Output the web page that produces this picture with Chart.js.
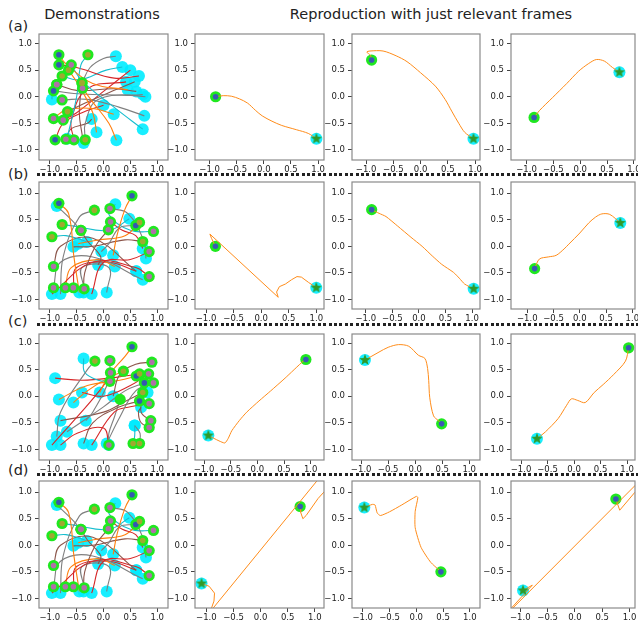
<!DOCTYPE html>
<html>
<head>
<meta charset="utf-8">
<script src="https://cdn.jsdelivr.net/npm/chart.js@4.4.1/dist/chart.umd.min.js"></script>
<style>
  body { margin: 0; background: #fff; width: 638px; height: 623px; overflow: hidden; position: relative;
         font-family: "DejaVu Sans", sans-serif; color: #222; }
  .t { position: absolute; font-size: 14.5px; line-height: 1; white-space: nowrap; }
  .mid { transform: translateX(-50%); }
  .dots { position: absolute; left: 37px; width: 601px; height: 3px;
          background: repeating-linear-gradient(to right, #222 0 3px, transparent 3px 5.4px); }
  canvas { position: absolute; }
</style>
</head>
<body>
<div class="t mid" style="left:102px;top:7px">Demonstrations</div>
<div class="t mid" style="left:431px;top:7px">Reproduction with just relevant frames</div>
<div class="t" style="left:8px;top:19px">(a)</div>
<div class="t" style="left:8px;top:167px">(b)</div>
<div class="t" style="left:8px;top:314px">(c)</div>
<div class="t" style="left:8px;top:463px">(d)</div>
<div class="dots" style="top:173px"></div>
<div class="dots" style="top:323px"></div>
<div class="dots" style="top:473px"></div>

<script>
// tick values shared by every panel
const TICKS = [-1, -0.5, 0, 0.5, 1];

// demonstrations: each trajectory runs from the green end to the cyan start
const demoA = [
  [[-0.83, 0.79], [-0.7, 0.62], [-0.2, 0.25], [0.45, 0.13]],
  [[-0.29, 0.79], [-0.42, 0.6], [-0.5, 0.0], [-0.68, -0.79]],
  [[-0.83, 0.60], [-0.5, 0.55], [0.2, 0.35], [0.66, 0.39]],
  [[-0.60, 0.60], [-0.4, 0.3], [0.2, -0.2], [0.73, -0.61]],
  [[-0.65, 0.50], [-0.45, 0.2], [-0.2, -0.3], [-0.13, -0.67]],
  [[-0.77, 0.39], [-0.45, 0.32], [0.05, 0.5], [0.35, 0.56]],
  [[-0.40, 0.26], [-0.25, 0.55], [0.0, 0.72], [0.23, 0.76]],
  [[-0.87, 0.23], [-0.5, 0.12], [0.2, 0.15], [0.61, 0.10]],
  [[-0.39, 0.16], [-0.2, -0.1], [0.1, -0.5], [0.24, -0.82]],
  [[-0.93, 0.11], [-0.4, 0.05], [0.4, 0.03], [0.78, 0.0]],
  [[-0.77, -0.06], [-0.3, -0.05], [0.3, -0.2], [0.76, -0.36]],
  [[-0.67, -0.28], [-0.3, -0.1], [0.2, 0.12], [0.58, 0.28]],
  [[-0.93, -0.41], [-0.7, -0.25], [-0.2, -0.22], [0.19, -0.33]],
  [[-0.75, -0.44], [-0.5, -0.3], [0.0, 0.1], [0.5, 0.50]],
  [[-0.90, -0.81], [-0.75, -0.5], [-0.4, -0.3], [0.0, -0.16]],
  [[-0.55, -0.81], [-0.6, -0.45], [-0.3, 0.15], [0.42, 0.28]],
  [[-0.34, -0.81], [-0.34, -0.5], [-0.1, -0.05], [0.73, 0.04]],
  [[-0.70, -0.80], [-0.6, -0.6], [-0.3, -0.5], [-0.22, -0.42]],
  [[-0.87, 0.23], [-0.95, 0.05], [-0.96, -0.05]],
  [[-0.40, 0.26], [-0.45, -0.3], [-0.4, -0.7], [-0.37, -0.87]]
];
const demoAColors = "ocrcocgbogg" + "borrrgbcb";
const demoADots = "bobmooommbmommbmommo";

const demoB = [
  [[-0.83, 0.81], [-0.65, 0.62], [-0.55, -0.2], [-0.45, -0.87]],
  [[0.53, 0.95], [0.4, 0.7], [0.25, 0.2], [0.18, -0.17]],
  [[-0.17, 0.68], [-0.45, 0.55], [-0.75, -0.2], [-0.80, -0.90]],
  [[0.12, 0.71], [0.45, 0.62], [0.75, 0.1], [0.79, -0.23]],
  [[-0.77, 0.41], [-0.55, 0.38], [0.1, 0.3], [0.48, 0.52]],
  [[0.13, 0.46], [0.35, 0.3], [0.6, 0.2], [0.73, -0.04]],
  [[-0.42, 0.30], [-0.3, 0.1], [-0.05, -0.2], [-0.10, -0.35]],
  [[0.09, 0.31], [-0.15, 0.0], [-0.35, -0.5], [-0.37, -0.87]],
  [[0.60, 0.39], [0.3, 0.35], [0.1, 0.05], [-0.04, -0.10]],
  [[0.67, 0.45], [0.4, 0.2], [-0.1, 0.12], [-0.47, 0.05]],
  [[0.93, 0.28], [0.5, 0.3], [0.1, 0.6], [0.22, 0.79]],
  [[-0.96, 0.18], [-0.7, 0.2], [-0.4, 0.12], [-0.31, 0.08]],
  [[0.73, 0.09], [0.4, 0.12], [-0.2, 0.0], [-0.56, -0.01]],
  [[0.85, -0.10], [0.5, -0.25], [0.0, -0.3], [-0.22, -0.90]],
  [[-0.93, -0.38], [-0.8, 0.0], [-0.2, 0.15], [0.61, -0.47]],
  [[0.85, -0.57], [0.6, -0.4], [-0.2, -0.3], [-0.96, -0.90]],
  [[-0.93, -0.78], [-0.8, -0.3], [-0.2, -0.2], [0.73, -0.63]],
  [[-0.71, -0.78], [-0.6, -0.4], [-0.1, -0.25], [0.21, -0.38]],
  [[-0.56, -0.78], [-0.5, -0.4], [0.1, -0.3], [0.61, -0.47]],
  [[-0.36, -0.80], [-0.4, -0.4], [0.1, -0.4], [0.06, -0.87]],
  [[-0.42, 0.30], [-0.6, 0.5], [-0.87, 0.76]]
];
const demoBColors = "ooggcrbbgoccbrbrgorgg";
const demoBDots = "bbomommmbomoommmmmmmm";

const demoC = [
  [[0.53, 0.93], [0.4, 0.75], [0.1, 0.4], [-0.07, 0.07]],
  [[-0.16, 0.66], [-0.3, 0.5], [-0.8, -0.3], [-0.87, -0.76]],
  [[0.12, 0.28], [-0.1, 0.3], [-0.35, 0.45], [-0.37, 0.71]],
  [[0.90, 0.64], [0.6, 0.6], [0.3, 0.4], [0.18, 0.0]],
  [[0.13, 0.44], [0.0, 0.2], [-0.5, -0.4], [-0.96, -0.92]],
  [[0.37, 0.47], [0.1, 0.35], [-0.3, 0.1], [-0.56, -0.12]],
  [[0.12, 0.67], [0.1, 0.3], [-0.2, -0.3], [-0.33, -0.46]],
  [[0.61, 0.38], [0.3, 0.3], [-0.3, 0.2], [-0.83, -0.06]],
  [[0.67, 0.42], [0.2, 0.35], [-0.4, 0.3], [-0.90, 0.34]],
  [[0.84, 0.42], [0.5, 0.2], [0.0, 0.0], [-0.40, 0.07]],
  [[0.76, 0.25], [0.4, 0.1], [0.0, -0.2], [-0.68, -0.67]],
  [[0.93, 0.25], [0.6, 0.1], [0.3, -0.4], [0.06, -0.89]],
  [[0.73, 0.07], [0.4, -0.1], [0.0, -0.3], [-0.80, -0.46]],
  [[0.67, -0.09], [0.3, -0.2], [-0.2, -0.5], [-0.37, -0.89]],
  [[0.85, -0.14], [0.5, -0.2], [0.2, -0.3], [-0.22, -0.92]],
  [[0.31, -0.06], [0.2, -0.4], [0.1, -0.7], [0.10, -0.92]],
  [[0.88, -0.46], [0.7, -0.3], [0.75, 0.0], [0.82, 0.07]],
  [[0.85, -0.59], [0.7, -0.5], [0.65, -0.3], [0.70, -0.21]],
  [[0.55, -0.89], [0.58, -0.75], [0.58, -0.55]],
  [[0.67, -0.89], [0.68, -0.7], [0.58, -0.55]],
  [[0.10, -0.92], [0.0, -0.6], [-0.5, -0.7], [-0.80, -0.92]]
];
const demoCColors = "ogcbrogorrggbbrgbbcgr";
const demoCDots = "bommmombombmobmnmmoom";

// reproductions: first point = start (green), last point = goal (star)
const reproA2 = [[-0.89, 0.0], [-0.75, 0.02], [-0.6, 0.01], [-0.45, -0.04], [-0.3, -0.12], [-0.15, -0.26],
  [-0.03, -0.36], [0.15, -0.46], [0.33, -0.54], [0.6, -0.62], [0.82, -0.69], [0.97, -0.79]];
const reproA3 = [[-0.90, 0.69], [-0.92, 0.78], [-0.99, 0.84], [-0.93, 0.86], [-0.69, 0.86], [-0.45, 0.77],
  [-0.25, 0.66], [0.0, 0.45], [0.27, 0.2], [0.45, -0.05], [0.57, -0.27], [0.7, -0.5], [0.81, -0.67], [0.97, -0.79]];
const reproA4 = [[-0.86, -0.39], [-0.76, -0.26], [-0.52, -0.02], [-0.25, 0.25], [-0.03, 0.48], [0.15, 0.62],
  [0.3, 0.7], [0.45, 0.67], [0.6, 0.55], [0.73, 0.46]];
const reproB2 = [[-0.83, 0.0], [-0.9, 0.15], [-0.93, 0.23], [0.31, -0.96], [0.28, -0.86], [0.33, -0.76],
  [0.44, -0.71], [0.55, -0.63], [0.65, -0.57], [0.73, -0.58], [0.86, -0.68], [1.0, -0.78]];
const reproB3 = [[-0.89, 0.69], [-0.75, 0.62], [-0.62, 0.56], [-0.4, 0.38], [-0.15, 0.17], [0.06, 0.0],
  [0.25, -0.18], [0.43, -0.34], [0.65, -0.49], [0.76, -0.6], [0.86, -0.71], [1.03, -0.80]];
const reproB4 = [[-0.86, -0.42], [-0.77, -0.24], [-0.6, -0.2], [-0.45, -0.17], [-0.3, -0.05], [-0.21, 0.04],
  [0.0, 0.25], [0.17, 0.44], [0.3, 0.55], [0.42, 0.61], [0.57, 0.60], [0.77, 0.44]];
const reproC2 = [[0.91, 0.69], [0.86, 0.66], [0.52, 0.34], [0.25, 0.1], [0.03, -0.09], [-0.2, -0.3],
  [-0.34, -0.46], [-0.48, -0.65], [-0.55, -0.8], [-0.61, -0.88], [-0.72, -0.84], [-0.92, -0.74]];
const reproC3 = [[0.49, -0.52], [0.43, -0.46], [0.34, -0.37], [0.27, -0.03], [0.25, 0.3], [0.23, 0.52],
  [0.18, 0.71], [0.06, 0.77], [-0.12, 0.94], [-0.31, 0.97], [-0.5, 0.92], [-0.67, 0.83], [-0.93, 0.68]];
const reproC4 = [[1.03, 0.91], [0.97, 0.66], [0.75, 0.41], [0.55, 0.22], [0.38, 0.07], [0.21, -0.12],
  [0.07, -0.08], [-0.05, -0.05], [-0.14, -0.17], [-0.3, -0.42], [-0.54, -0.67], [-0.70, -0.80]];
const reproD2 = [[0.73, 0.73], [0.74, 0.62], [0.78, 0.5], [0.84, 0.56], [1.06, 0.88], [1.3, 1.15], [1.5, 1.3],
  [1.2, 1.45], [1.11, 1.3], [-0.93, -1.25], [-0.86, -1.05], [-0.85, -0.9], [-0.95, -0.77], [-1.09, -0.72]];
const reproD3 = [[0.46, -0.50], [0.43, -0.47], [0.27, -0.32], [0.09, -0.04], [-0.02, 0.33], [-0.02, 0.64],
  [0.03, 0.90], [0.0, 0.92], [-0.27, 0.76], [-0.5, 0.63], [-0.67, 0.56], [-0.73, 0.61], [-0.77, 0.76],
  [-0.82, 0.77], [-0.97, 0.71]];
const reproD4 = [[0.75, 0.87], [0.78, 0.78], [0.82, 0.66], [1.1, 1.0], [1.35, 1.25], [1.3, 1.33],
  [-1.3, -1.35], [-1.25, -1.28], [-0.78, -0.75], [-0.95, -0.85]];

// axis limits, row-major
const X_LIMITS = [
  [-1.2, 1.2], [-1.27, 1.11], [-1.26, 1.09], [-1.29, 1.02],
  [-1.2, 1.2], [-1.2, 1.14], [-1.26, 1.15], [-1.31, 1.05],
  [-1.2, 1.2], [-1.17, 1.25], [-1.17, 1.2], [-1.19, 1.15],
  [-1.2, 1.2], [-1.21, 1.17], [-1.2, 1.19], [-1.17, 1.1]
];
const Y_LIMITS = [[-1.19, 1.18], [-1.18, 1.21], [-1.2, 1.17], [-1.18, 1.21]];

// ---- styling / layout ----
const COLS = [[39, 170], [195, 326], [352, 482], [511, 637]];
const ROWS = [[32, 160], [180, 309], [332, 460], [479, 608]];
const LINE_COLORS = { o: "#ff7f0e", g: "#7f7f7f", b: "#8c564b", r: "#d62728", c: "#17becf" };
const DOT_COLORS = { b: "#3558b0", m: "#b070a8", o: "#a0a830", n: "rgba(0,0,0,0)" };
const GREEN = "#1fe81f";
const CYAN = "rgba(0,236,255,0.9)";
const ORANGE = "#ff8c1a";
const YAXW = 38, XAXH = 18, PT = 4, PR = 4;

function starImage(r, color) {
  const c = document.createElement("canvas");
  c.width = c.height = 2 * r + 2;
  const g = c.getContext("2d");
  g.fillStyle = color;
  g.beginPath();
  for (let i = 0; i < 10; i++) {
    const a = -Math.PI / 2 + i * Math.PI / 5;
    const rr = i % 2 ? r * 0.42 : r;
    g.lineTo(r + 1 + rr * Math.cos(a), r + 1 + rr * Math.sin(a));
  }
  g.closePath();
  g.fill();
  return c;
}
const STAR = starImage(6, "#2f9a2a");

const pt = ([x, y]) => ({ x, y });

function demoSets(trajs, colors, dots) {
  const sets = trajs.map((t, i) => ({
    data: t.map(pt), showLine: true, borderColor: LINE_COLORS[colors[i]], borderWidth: 1.1,
    pointRadius: 0, tension: 0.4, order: 2
  }));
  sets.push({ data: trajs.map(t => pt(t[t.length - 1])), pointRadius: 6, backgroundColor: CYAN, borderWidth: 0, order: 3 });
  sets.push({ data: trajs.map(t => pt(t[0])), pointRadius: 5.6, backgroundColor: GREEN, borderWidth: 0, order: 1 });
  sets.push({ data: trajs.map(t => pt(t[0])), pointRadius: 2.8, backgroundColor: trajs.map((t, i) => DOT_COLORS[dots[i]]), borderWidth: 0, order: 0 });
  return sets;
}

function reproSets(path, tension) {
  const start = path[0], goal = path[path.length - 1];
  return [
    { data: [pt(goal)], pointRadius: 6, backgroundColor: CYAN, borderWidth: 0, order: 4 },
    { data: [pt(start)], pointRadius: 5.6, backgroundColor: GREEN, borderWidth: 0, order: 3 },
    { data: path.map(pt), showLine: true, borderColor: ORANGE, borderWidth: 1, pointRadius: 0, tension, order: 2 },
    { data: [pt(start)], pointRadius: 2.8, backgroundColor: "#3b58b4", borderWidth: 0, order: 1 },
    { data: [pt(goal)], pointRadius: 5, pointStyle: STAR, order: 0 }
  ];
}

const fmt = v => (v < 0 ? "\u2212" : "") + Math.abs(v).toFixed(1);

const framePlugin = {
  id: "frame",
  afterDatasetsDraw(chart) {
    const a = chart.chartArea, g = chart.ctx;
    g.save();
    g.strokeStyle = "#8a8a8a";
    g.lineWidth = 1.2;
    g.strokeRect(a.left, a.top, a.right - a.left, a.bottom - a.top);
    g.restore();
  }
};

function axis(lim, isX) {
  return {
    type: "linear", min: lim[0], max: lim[1],
    afterBuildTicks: s => { s.ticks = TICKS.map(v => ({ value: v })); },
    afterFit: s => {
      if (isX) s.height = XAXH; else s.width = YAXW;
      s.paddingLeft = s.paddingRight = s.paddingTop = s.paddingBottom = 0;
    },
    ticks: { callback: fmt, color: "#222", font: { family: "DejaVu Sans", size: 8.5 }, padding: isX ? 1 : 3,
             maxRotation: 0, autoSkip: false },
    grid: { drawOnChartArea: false, tickLength: 4, color: "#444" },
    border: { display: false }
  };
}

function panel(r, c, datasets) {
  const [x0, x1] = COLS[c], [y0, y1] = ROWS[r];
  const cv = document.createElement("canvas");
  cv.width = YAXW + (x1 - x0) + PR;
  cv.height = PT + (y1 - y0) + XAXH;
  cv.style.left = (x0 - YAXW) + "px";
  cv.style.top = (y0 - PT) + "px";
  document.body.appendChild(cv);
  new Chart(cv, {
    type: "scatter",
    data: { datasets },
    options: {
      responsive: false, animation: false, events: [],
      layout: { padding: { top: PT, right: PR, left: 0, bottom: 0 } },
      plugins: { legend: { display: false }, tooltip: { enabled: false } },
      scales: { x: axis(X_LIMITS[r * 4 + c], true), y: axis(Y_LIMITS[r], false) }
    },
    plugins: [framePlugin]
  });
}

panel(0, 0, demoSets(demoA, demoAColors, demoADots));
panel(0, 1, reproSets(reproA2, 0.3));
panel(0, 2, reproSets(reproA3, 0.3));
panel(0, 3, reproSets(reproA4, 0.3));
panel(1, 0, demoSets(demoB, demoBColors, demoBDots));
panel(1, 1, reproSets(reproB2, 0));
panel(1, 2, reproSets(reproB3, 0.2));
panel(1, 3, reproSets(reproB4, 0.3));
panel(2, 0, demoSets(demoC, demoCColors, demoCDots));
panel(2, 1, reproSets(reproC2, 0.2));
panel(2, 2, reproSets(reproC3, 0.3));
panel(2, 3, reproSets(reproC4, 0.3));
panel(3, 0, demoSets(demoB, demoBColors, demoBDots));
panel(3, 1, reproSets(reproD2, 0));
panel(3, 2, reproSets(reproD3, 0.2));
panel(3, 3, reproSets(reproD4, 0));
</script>
</body>
</html>
